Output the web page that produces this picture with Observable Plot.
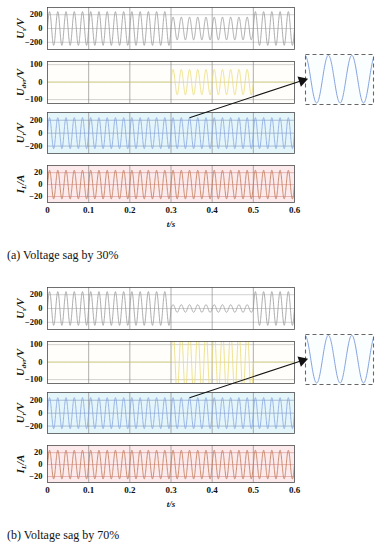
<!DOCTYPE html>
<html>
<head>
<meta charset="utf-8">
<script src="https://cdn.jsdelivr.net/npm/d3@7"></script>
<script src="https://cdn.jsdelivr.net/npm/@observablehq/plot@0.6"></script>
<style>
  html, body { margin: 0; padding: 0; background: #fff; }
  #root { position: relative; width: 379px; height: 550px; overflow: hidden; }
  .fig { position: absolute; left: 0; width: 379px; height: 280px; }
  .fig svg { position: absolute; left: 0; }
  .fig .inset { position: absolute; }
  .caption { position: absolute; left: 7px; font-family: "Liberation Serif", serif; font-size: 12px; color: #111; white-space: nowrap; }
</style>
</head>
<body>
<div id="root"></div>
<script>
// ---------------- data ----------------
const timeTicks = [0, 0.1, 0.2, 0.3, 0.4, 0.5, 0.6];
const gridTimes = [0.1, 0.2, 0.3, 0.4, 0.5];
const freqHz = [50];
const usTicks = [-200, 0, 200];
const udvrTicks = [-100, 0, 100];
const urTicks = [-200, 0, 200];
const ilTicks = [-20, 0, 20];
const captions = ["(a) Voltage sag by 30%", "(b) Voltage sag by 70%"];

// waveform segments: [start s, end s, peak amplitude]
const usSag30   = [[0, 0.3, 245], [0.3, 0.5, 165], [0.5, 0.6, 245]];
const udvrSag30 = [[0, 0.3, 0], [0.3, 0.5, 72], [0.5, 0.6, 0]];
const urSag30   = [[0, 0.6, 240]];
const ilSag30   = [[0, 0.6, 24]];
const usSag70   = [[0, 0.3, 245], [0.3, 0.5, 55], [0.5, 0.6, 245]];
const udvrSag70 = [[0, 0.3, 0], [0.3, 0.5, 180], [0.5, 0.6, 0]];
const urSag70   = [[0, 0.6, 240]];
const ilSag70   = [[0, 0.6, 24]];

// zoom window of the inset and the marked peak
const insetWindow = [0.3055, 0.3635];
const arrowFromTime = [0.345, 0.345];

// ---------------- helpers ----------------
function wave(segs) {
  const pts = [];
  const step = 0.0003;
  for (const [a, b, amp] of segs) {
    const n = Math.round((b - a) / step);
    for (let i = 0; i <= n; i++) {
      const t = a + (b - a) * i / n;
      pts.push({t, v: amp * Math.sin(2 * Math.PI * freqHz[0] * t)});
    }
  }
  return pts;
}

const W = 379, ML = 47, MR = 85;
const tickFont = "Liberation Serif";

function setLabel(svg, main, sub, unit) {
  d3.select(svg).selectAll("text").each(function() {
    if (this.textContent.trim() === main + sub + unit) {
      const s = d3.select(this);
      s.text(null);
      s.append("tspan").text(main);
      s.append("tspan").attr("dy", 2.5).attr("font-size", 7).text(sub);
      s.append("tspan").attr("dy", -2.5).text(unit);
    }
  });
}

function panel(fig, p) {
  const mt = 4, mb = p.last ? 30 : 4;
  const marks = [
    Plot.frame({fill: p.bg}),
    Plot.gridY(p.ticks, {stroke: p.hGrid, strokeOpacity: 1, strokeWidth: 0.6}),
    Plot.gridX(gridTimes, {stroke: "#7a7a7a", strokeOpacity: 1, strokeWidth: 0.6}),
    Plot.line(wave(p.segs), {x: "t", y: "v", stroke: p.color, strokeWidth: 0.8, clip: true}),
    Plot.axisY(p.ticks, {tickSize: 0, tickPadding: 5, fontSize: 8.5, fontWeight: "bold",
      label: p.main + p.sub + p.unit, labelAnchor: "center", labelArrow: "none", labelOffset: 31}),
    Plot.frame({stroke: "#4d4d4d", strokeWidth: 0.8})
  ];
  if (p.last) {
    marks.push(Plot.axisX(timeTicks, {tickSize: 0, tickPadding: 4, fontSize: 9, fontWeight: "bold",
      tickFormat: d => d === 0 ? "0" : d.toFixed(1),
      label: "t/s", labelAnchor: "center", labelArrow: "none", labelOffset: 24}));
  }
  const svg = Plot.plot({
    width: W, height: p.h + mt + mb,
    marginLeft: ML, marginRight: MR, marginTop: mt, marginBottom: mb,
    style: {background: "transparent", fontFamily: tickFont, color: "#111", overflow: "visible"},
    x: {domain: [0, 0.6], axis: p.last ? undefined : null},
    y: {domain: p.domain},
    marks
  });
  svg.style.top = (p.top - mt) + "px";
  fig.appendChild(svg);
  // y label: bold italic with subscript
  d3.select(svg).selectAll("text").filter(function() { return this.textContent === p.main + p.sub + p.unit; })
    .attr("font-style", "italic").attr("font-weight", "bold").attr("font-size", 10.5);
  setLabel(svg, p.main, p.sub, p.unit);
  if (p.last) {
    d3.select(svg).selectAll("text").filter(function() { return this.textContent === "t/s"; })
      .attr("font-style", "italic").attr("font-weight", "bold").attr("font-size", 9);
  }
  return {svg, top: p.top - mt};
}

function figure(idx, us, udvr, ur, il) {
  const fig = document.createElement("div");
  fig.className = "fig";
  fig.style.top = (idx * 280) + "px";
  document.getElementById("root").appendChild(fig);

  panel(fig, {segs: us, color: "#979797", domain: [-305, 305], ticks: usTicks, bg: "#ffffff", hGrid: "#b0b0b0",
    main: "U", sub: "s", unit: "/V", top: 7, h: 42});
  panel(fig, {segs: udvr, color: "#eadb72", domain: [-122, 118], ticks: udvrTicks, bg: "#fffefa", hGrid: "#b0b0b0",
    main: "U", sub: "dvr", unit: "/V", top: 61, h: 42});
  const urP = panel(fig, {segs: ur, color: "#84a2e0", domain: [-315, 320], ticks: urTicks, bg: "#e5f6fb", hGrid: "#7d97b8",
    main: "U", sub: "r", unit: "/V", top: 112, h: 41});
  panel(fig, {segs: il, color: "#bb7650", domain: [-30, 32], ticks: ilTicks, bg: "#fdeaec", hGrid: "#d98a8a",
    main: "I", sub: "L", unit: "/A", top: 165, h: 37, last: true});

  // inset (zoom of U_r)
  const inset = Plot.plot({
    width: 70, height: 52, margin: 1,
    style: {background: "transparent", overflow: "visible"},
    x: {domain: insetWindow, axis: null},
    y: {domain: [-255, 248], axis: null},
    marks: [
      Plot.frame({fill: "#fbfeff"}),
      Plot.line(wave(ur).filter(d => d.t >= insetWindow[0] && d.t <= insetWindow[1]),
        {x: "t", y: "v", stroke: "#84a2e0", strokeWidth: 1, clip: true}),
      Plot.frame({stroke: "#666", strokeWidth: 1.1, strokeDasharray: "4,3"})
    ]
  });
  inset.classList.add("inset");
  inset.style.left = "304px";
  inset.style.top = "53px";
  fig.appendChild(inset);

  // arrow from the marked peak in U_r to the inset
  const xs = urP.svg.scale("x"), ys = urP.svg.scale("y");
  const t0 = arrowFromTime[idx];
  const x1 = xs.apply(t0), y1 = urP.top + ys.apply(ur[0][2]);
  const x2 = 304 + 1, y2 = 53 + 26;
  const ang = Math.atan2(x2 - x1, -(y2 - y1)) * 180 / Math.PI;
  const len = Math.hypot(x2 - x1, y2 - y1);
  const ux = (x2 - x1) / len, uy = (y2 - y1) / len;
  const overlay = Plot.plot({
    width: W, height: 280, margin: 0,
    style: {background: "transparent", overflow: "visible"},
    x: {domain: [0, W], range: [0, W], axis: null},
    y: {domain: [0, 280], range: [0, 280], axis: null},
    marks: [
      Plot.link([{x1, y1, x2: x2 - ux * 5, y2: y2 - uy * 5}], {x1: "x1", y1: "y1", x2: "x2", y2: "y2", stroke: "#111", strokeWidth: 1.1}),
      Plot.dot([{x: x2 - ux * 3.5, y: y2 - uy * 3.5}], {x: "x", y: "y", symbol: "triangle", r: 4, fill: "#111", stroke: "none", rotate: ang})
    ]
  });
  overlay.style.top = "0px";
  overlay.style.pointerEvents = "none";
  fig.appendChild(overlay);

  const cap = document.createElement("div");
  cap.className = "caption";
  cap.style.top = "248px";
  cap.textContent = captions[idx];
  fig.appendChild(cap);
}

figure(0, usSag30, udvrSag30, urSag30, ilSag30);
figure(1, usSag70, udvrSag70, urSag70, ilSag70);
</script>
</body>
</html>
